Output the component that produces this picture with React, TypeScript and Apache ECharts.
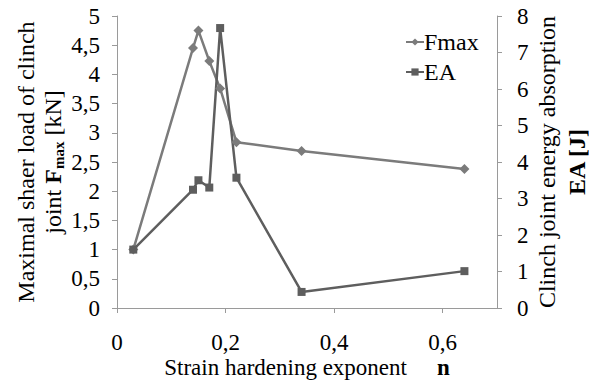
import React, { useEffect, useRef } from "react";
import * as echarts from "echarts";

const nValues = [0.03, 0.14, 0.15, 0.17, 0.19, 0.22, 0.34, 0.64];
const fmaxValues = [1.0, 4.45, 4.75, 4.23, 3.76, 2.84, 2.69, 2.38];
const eaValues = [1.6, 3.24, 3.5, 3.3, 7.67, 3.57, 0.44, 1.01];
const xTicks = [0, 0.2, 0.4, 0.6];
const seriesNames = ["Fmax", "EA"];

const FONT = "Liberation Serif, Times New Roman, serif";
const AXIS_COLOR = "#9a9a9a";

const fmt = (v: number) => String(Number(v.toFixed(2))).replace(".", ",");

export default function App() {
  const ref = useRef<HTMLDivElement>(null);
  useEffect(() => {
    if (!ref.current) return;
    const chart = echarts.init(ref.current, null, { renderer: "svg" });
    const axisCommon = {
      axisLine: { show: true, lineStyle: { color: AXIS_COLOR, width: 1 } },
      axisTick: { show: true, inside: false, length: 5, lineStyle: { color: AXIS_COLOR } },
      splitLine: { show: false },
      nameMoveOverlap: false,
    };
    const t = (extra: any = {}) => ({ fontFamily: FONT, fontSize: 23, color: "#000", ...extra });
    const tt = (extra: any = {}) => t({ fontSize: 24, ...extra });
    chart.setOption({
      animation: false,
      backgroundColor: "#ffffff",
      textStyle: { fontFamily: FONT },
      grid: { left: 117, right: 92, top: 16, bottom: 77, containLabel: false, outerBoundsMode: "none" },
      legend: {
        orient: "vertical",
        left: 400,
        top: 25,
        itemGap: 6,
        itemWidth: 18,
        itemHeight: 9,
        data: seriesNames,
        textStyle: tt({ padding: [0, 0, 0, -5] }),
      },
      xAxis: {
        type: "value",
        min: 0,
        max: 0.7,
        interval: 0.2,
        ...axisCommon,
        axisTick: { ...axisCommon.axisTick, customValues: xTicks },
        axisLabel: {
          customValues: xTicks,
          margin: 23,
          ...t(),
          formatter: (v: number) => fmt(v),
        },
        name: "{n|Strain hardening exponent}{b|n}",
        nameLocation: "middle",
        nameGap: 48,
        nameTextStyle: t({
          rich: {
            n: t(),
            b: t({ fontWeight: "bold", padding: [0, 0, 0, 30] }),
          },
        }),
      },
      yAxis: [
        {
          type: "value",
          min: 0,
          max: 5,
          interval: 0.5,
          position: "left",
          ...axisCommon,
          axisLabel: {
            margin: 17,
            ...t(),
            formatter: (v: number) => fmt(v),
          },
          name: "{n|Maximal shaer load of clinch}\n{n|joint }{b|F}{s|max}{n| [kN]}",
          nameLocation: "middle",
          nameRotate: 90,
          nameGap: 51,
          nameTextStyle: tt({
            lineHeight: 27,
            rich: {
              n: tt({ lineHeight: 27 }),
              b: tt({ fontWeight: "bold", lineHeight: 27 }),
              s: tt({ fontSize: 15, fontWeight: "bold", lineHeight: 15, verticalAlign: "bottom" }),
            },
          }),
        },
        {
          type: "value",
          min: 0,
          max: 8,
          interval: 1,
          position: "right",
          ...axisCommon,
          axisLabel: {
            margin: 20,
            ...t(),
            formatter: (v: number) => fmt(v),
          },
          name: "{n|Clinch joint energy absorption}\n{b|EA [J]}",
          nameLocation: "middle",
          nameRotate: 90,
          nameGap: 35,
          nameTextStyle: tt({
            lineHeight: 30,
            rich: {
              n: tt({ lineHeight: 30 }),
              b: tt({ fontWeight: "bold", lineHeight: 30 }),
            },
          }),
        },
      ],
      series: [
        {
          name: seriesNames[0],
          type: "line",
          yAxisIndex: 0,
          data: nValues.map((x, i) => [x, fmaxValues[i]]),
          symbol: "diamond",
          symbolSize: 10,
          showAllSymbol: true,
          lineStyle: { color: "#7b7b7b", width: 2.5 },
          itemStyle: { color: "#7b7b7b" },
          emphasis: { disabled: true },
        },
        {
          name: seriesNames[1],
          type: "line",
          yAxisIndex: 1,
          data: nValues.map((x, i) => [x, eaValues[i]]),
          symbol: "rect",
          symbolSize: 8,
          showAllSymbol: true,
          lineStyle: { color: "#5e5e5e", width: 2.5 },
          itemStyle: { color: "#5e5e5e" },
          emphasis: { disabled: true },
        },
      ],
    });
    return () => chart.dispose();
  }, []);
  return (
    <div
      ref={ref}
      style={{ position: "absolute", left: 0, top: 0, width: 589, height: 385, background: "#fff" }}
    />
  );
}
